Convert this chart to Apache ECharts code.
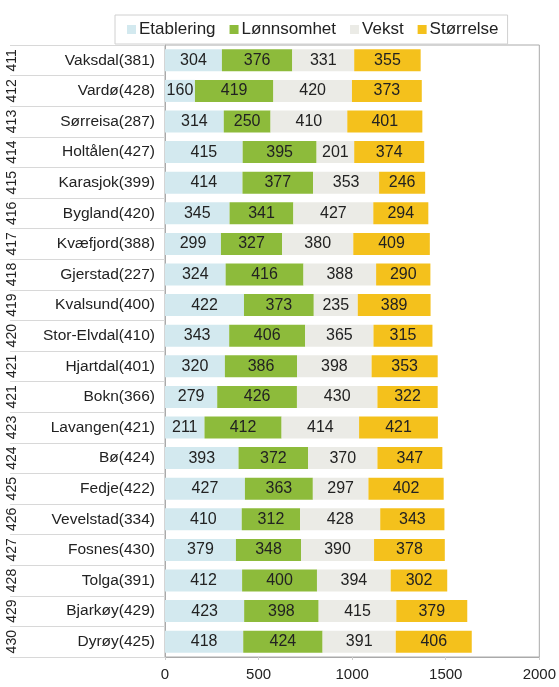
<!DOCTYPE html>
<html><head><meta charset="utf-8">
<script src="https://cdn.jsdelivr.net/npm/echarts@6/dist/echarts.min.js"></script>
<style>html,body{margin:0;padding:0;background:#fff}#c{width:559px;height:687px}</style>
</head><body><div id="c"></div>
<script>
const categories = ["Vaksdal(381)","Vardø(428)","Sørreisa(287)","Holtålen(427)","Karasjok(399)","Bygland(420)","Kvæfjord(388)","Gjerstad(227)","Kvalsund(400)","Stor-Elvdal(410)","Hjartdal(401)","Bokn(366)","Lavangen(421)","Bø(424)","Fedje(422)","Vevelstad(334)","Fosnes(430)","Tolga(391)","Bjarkøy(429)","Dyrøy(425)"];
const ranks = ["411","412","413","414","415","416","417","418","419","420","421","421","423","424","425","426","427","428","429","430"];
const etablering = [304,160,314,415,414,345,299,324,422,343,320,279,211,393,427,410,379,412,423,418];
const lonnsomhet = [376,419,250,395,377,341,327,416,373,406,386,426,412,372,363,312,348,400,398,424];
const vekst = [331,420,410,201,353,427,380,388,235,365,398,430,414,370,297,428,390,394,415,391];
const storrelse = [355,373,401,374,246,294,409,290,389,315,353,322,421,347,402,343,378,302,379,406];
const xTicks = [0,500,1000,1500,2000];

const seriesDefs = [
  {name:"Etablering", data:etablering, color:"#d3e9ef"},
  {name:"Lønnsomhet", data:lonnsomhet, color:"#8dbb3b"},
  {name:"Vekst", data:vekst, color:"#ebebe6"},
  {name:"Størrelse", data:storrelse, color:"#f4c11c"}
];
const font = "Liberation Sans, Arial, sans-serif";
const chart = echarts.init(document.getElementById('c'), null, {renderer:'canvas'});
chart.setOption({
  animation:false,
  textStyle:{fontFamily:font},
  legend:{
    top:15, left:115,
    padding:[6,9,6,12],
    borderColor:"#d0d0d0", borderWidth:1,
    itemWidth:9, itemHeight:9, itemGap:14, icon:'rect',
    textStyle:{fontSize:17, color:"#222", fontFamily:font, padding:[0,0,0,-2]},
    data:seriesDefs.map(s=>s.name)
  },
  grid:{left:165, right:19, top:45, bottom:30, show:true, borderColor:"#aaaaaa", borderWidth:1},
  xAxis:{
    type:'value', min:0, max:2000, interval:500,
    axisLine:{show:true, lineStyle:{color:"#aaaaaa"}},
    axisTick:{show:true, length:3, lineStyle:{color:"#cccccc"}},
    splitLine:{show:false},
    axisLabel:{fontSize:15, color:"#222", margin:10, fontFamily:font,
      formatter:v=> xTicks.includes(v)? String(v):''}
  },
  yAxis:[
    {type:'category', data:categories, inverse:true, position:'left',
      axisLine:{show:true, lineStyle:{color:"#aaaaaa"}},
      axisTick:{show:true, length:155, inside:false, lineStyle:{color:"#d8d8d8"}},
      axisLabel:{fontSize:15.5, color:"#222", margin:10, fontFamily:font}
    },
    {type:'category', data:ranks, inverse:true, position:'left', offset:140,
      axisLine:{show:false}, axisTick:{show:false},
      axisLabel:{fontSize:14, color:"#222", rotate:90, margin:6, fontFamily:font}
    }
  ],
  series:seriesDefs.map(s=>({
    name:s.name, type:'bar', stack:'total', data:s.data, yAxisIndex:0,
    barCategoryGap:'28%',
    itemStyle:{color:s.color},
    label:{show:true, position:'inside', color:"#222", fontSize:16, fontFamily:font}
  }))
});
</script></body></html>
